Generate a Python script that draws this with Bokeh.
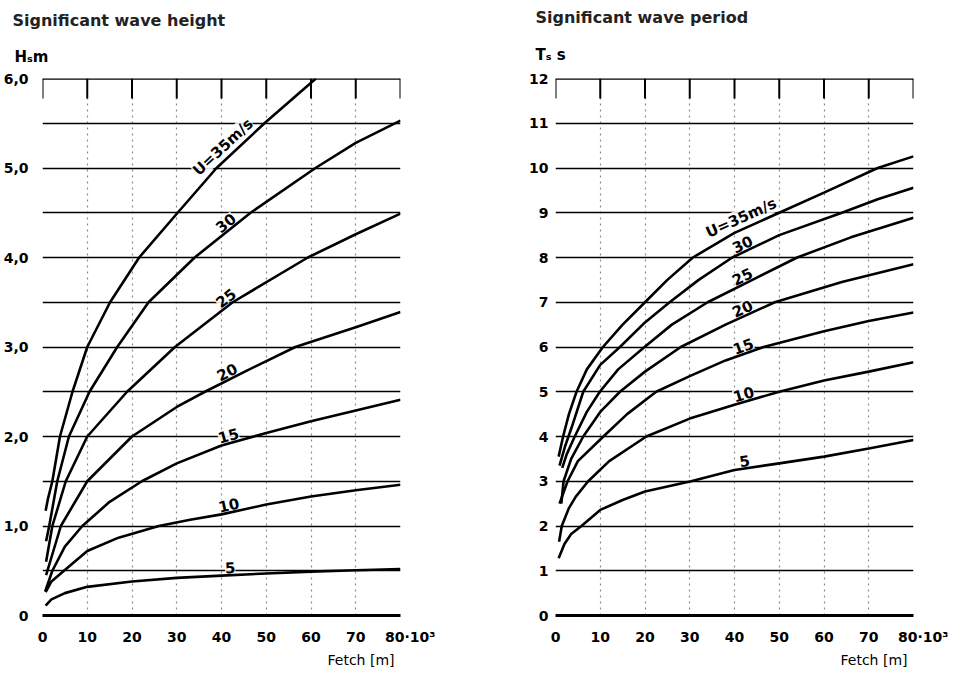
import numpy as np
from bokeh.plotting import figure
from bokeh.models import Range1d, FixedTicker, Label, Title, Span
from bokeh.layouts import row
from bokeh.embed import file_html
from bokeh.resources import INLINE

# ---------------- data ----------------
curve_labels = ["U=35m/s", "30", "25", "20", "15", "10", "5"]

# Significant wave height H (m) vs fetch (10^3 m)
h35_fetch = [0.7, 1.2, 2.2, 3.9, 6.7, 10, 15.1, 21.6, 30.2, 38.9, 49.6, 61.1]
h35_val = [1.17, 1.3, 1.5, 2.0, 2.5, 3.0, 3.5, 4.0, 4.5, 5.0, 5.5, 6.0]
h30_fetch = [0.8, 1.5, 3.3, 5.9, 10.5, 16.7, 23.7, 34, 46.5, 61, 70, 80]
h30_val = [0.83, 1.0, 1.5, 2.0, 2.5, 3.0, 3.5, 4.0, 4.5, 5.0, 5.28, 5.53]
h25_fetch = [0.8, 2.2, 5.2, 10, 18.9, 29.6, 42.5, 59.3, 70, 80]
h25_val = [0.6, 1.0, 1.5, 2.0, 2.5, 3.0, 3.5, 4.0, 4.26, 4.49]
h20_fetch = [0.8, 1.1, 4.1, 10, 20, 30, 36.3, 45, 56.5, 70, 80]
h20_val = [0.45, 0.5, 1.0, 1.5, 2.0, 2.33, 2.5, 2.72, 3.0, 3.22, 3.39]
h15_fetch = [0.6, 2.2, 5, 8.9, 15, 22.2, 30, 40, 50, 60, 70, 80]
h15_val = [0.27, 0.5, 0.77, 1.0, 1.27, 1.5, 1.7, 1.9, 2.04, 2.17, 2.29, 2.41]
h10_fetch = [0.7, 2, 4.8, 10, 17, 26, 33, 40, 50, 60, 70, 80]
h10_val = [0.26, 0.38, 0.5, 0.72, 0.87, 1.0, 1.07, 1.13, 1.24, 1.33, 1.40, 1.46]
h5_fetch = [0.7, 2, 5, 10, 20, 30, 40, 50, 60, 70, 80]
h5_val = [0.11, 0.18, 0.25, 0.32, 0.38, 0.42, 0.445, 0.47, 0.49, 0.505, 0.52]

# Significant wave period T (s) vs fetch (10^3 m)
t35_fetch = [0.7, 1.7, 3, 4.7, 7, 10.6, 15, 20, 25, 30.7, 40, 50, 60, 72, 80]
t35_val = [3.55, 4.0, 4.5, 5.0, 5.5, 6.0, 6.5, 7.0, 7.5, 8.0, 8.55, 9.0, 9.45, 10.0, 10.26]
t30_fetch = [0.9, 2.2, 3.6, 6.2, 10, 14.4, 20, 25.5, 32, 39.5, 50, 64, 72, 80]
t30_val = [3.35, 3.8, 4.2, 5.0, 5.6, 6.0, 6.55, 7.0, 7.5, 8.0, 8.5, 9.0, 9.3, 9.56]
t25_fetch = [1.5, 2.5, 4.3, 7, 9.9, 14, 19.9, 26, 34, 44, 54, 66, 80]
t25_val = [3.3, 3.6, 4.0, 4.55, 5.0, 5.5, 6.0, 6.5, 7.0, 7.5, 8.0, 8.45, 8.89]
t20_fetch = [1.3, 1.8, 3.5, 6.2, 10, 14.4, 20, 28, 38, 49, 64, 80]
t20_val = [2.5, 3.0, 3.5, 4.0, 4.55, 5.0, 5.45, 6.0, 6.5, 7.0, 7.45, 7.85]
t15_fetch = [0.9, 2.7, 5, 10.7, 16, 22.5, 30, 38, 46.5, 60, 70, 80]
t15_val = [2.5, 3.0, 3.45, 4.0, 4.5, 5.0, 5.35, 5.7, 6.0, 6.35, 6.58, 6.77]
t10_fetch = [0.8, 1.4, 3, 4.5, 7.3, 12, 20.3, 30, 40, 50, 60, 70, 80]
t10_val = [1.65, 2.0, 2.4, 2.65, 3.0, 3.45, 4.0, 4.4, 4.71, 5.0, 5.25, 5.45, 5.66]
t5_fetch = [0.7, 2, 3.5, 5.8, 10, 15, 20, 30.3, 40, 50, 60, 70, 80]
t5_val = [1.28, 1.6, 1.82, 2.0, 2.36, 2.58, 2.77, 3.0, 3.25, 3.4, 3.55, 3.73, 3.92]

h_curves = [(h35_fetch, h35_val), (h30_fetch, h30_val), (h25_fetch, h25_val),
            (h20_fetch, h20_val), (h15_fetch, h15_val), (h10_fetch, h10_val),
            (h5_fetch, h5_val)]
t_curves = [(t35_fetch, t35_val), (t30_fetch, t30_val), (t25_fetch, t25_val),
            (t20_fetch, t20_val), (t15_fetch, t15_val), (t10_fetch, t10_val),
            (t5_fetch, t5_val)]

x_ticks = [0, 10, 20, 30, 40, 50, 60, 70, 80]
x_tick_labels = {80: "\u00a0\u00a0\u00a0\u00a080·10³"}
h_ticks = [0, 1, 2, 3, 4, 5, 6]
h_tick_labels = {0: "0", 1: "1,0", 2: "2,0", 3: "3,0", 4: "4,0", 5: "5,0", 6: "6,0"}
t_ticks = list(range(0, 13))

FONT = "DejaVu Sans"


def make_chart(width, height, ymax, grid_step, yticks, ylabels, curves,
               borders, title_text, unit_text, title_off, standoffs,
               label_fetch, ystandoff):
    bl, br, bt, bb = borders
    p = figure(width=width, height=height, x_range=Range1d(0, 80),
               y_range=Range1d(0, ymax), output_backend="svg",
               toolbar_location=None, title=None,
               min_border_left=bl, min_border_right=br,
               min_border_top=bt, min_border_bottom=bb)
    p.outline_line_color = None
    p.background_fill_color = "white"
    p.border_fill_color = "white"

    # bottom axis
    xa = p.xaxis[0]
    xa.ticker = FixedTicker(ticks=x_ticks)
    xa.major_label_overrides = x_tick_labels
    xa.major_tick_line_color = None
    xa.minor_tick_line_color = None
    xa.axis_line_width = 3
    xa.axis_line_color = "black"
    xa.major_label_standoff = 7
    xa.major_label_text_font = FONT
    xa.major_label_text_font_style = "bold"
    xa.major_label_text_font_size = "14px"
    xa.major_label_text_color = "black"

    # left axis
    ya = p.yaxis[0]
    ya.ticker = FixedTicker(ticks=yticks)
    ya.major_label_overrides = ylabels
    ya.major_tick_line_color = None
    ya.minor_tick_line_color = None
    ya.axis_line_color = None
    ya.major_label_standoff = ystandoff
    ya.major_label_text_font = FONT
    ya.major_label_text_font_style = "bold"
    ya.major_label_text_font_size = "14px"
    ya.major_label_text_color = "black"

    # grids
    p.xgrid.ticker = FixedTicker(ticks=x_ticks)
    p.xgrid.grid_line_color = "#8a8a8a"
    p.xgrid.grid_line_dash = "2 4"
    p.xgrid.grid_line_width = 1.2
    p.ygrid.ticker = FixedTicker(ticks=list(np.arange(grid_step, ymax + 1e-9, grid_step)))
    p.ygrid.grid_line_color = "black"
    p.ygrid.grid_line_width = 1.6

    px_x = (width - bl - br) / 80.0
    px_y = (height - bt - bb) / ymax

    # top border with inward ticks
    p.add_layout(Span(location=ymax, dimension="width", line_color="black", line_width=2.5))
    tick_len = 20.0 / px_y
    p.segment(x0=x_ticks, y0=[ymax] * len(x_ticks), x1=x_ticks,
              y1=[ymax - tick_len] * len(x_ticks), line_color="black", line_width=2)

    # curves
    for (fx, fy), lab in zip(curves, curve_labels):
        p.line(fx, fy, line_color="black", line_width=2.6)
        yl = float(np.interp(label_fetch, fx, fy))
        i = int(np.searchsorted(fx, label_fetch))
        slope = (fy[i] - fy[i - 1]) / (fx[i] - fx[i - 1])
        ang = float(np.arctan(slope * px_y / px_x))
        d = 2.0
        p.add_layout(Label(x=label_fetch, y=yl, text=lab, angle=ang,
                           x_offset=float(-d * np.sin(ang)), y_offset=float(d * np.cos(ang)),
                           text_align="center", text_baseline="bottom",
                           text_font=FONT, text_font_style="bold",
                           text_font_size="15px", text_color="black",
                           background_fill_color="white", background_fill_alpha=0.85))

    # texts outside the frame
    p.add_layout(Title(text=unit_text, align="left", offset=title_off[0],
                       standoff=standoffs[0], vertical_align="top",
                       text_font=FONT, text_font_style="bold",
                       text_font_size="15px", text_color="black"), "above")
    p.add_layout(Title(text=title_text, align="left", offset=title_off[1],
                       standoff=standoffs[1], vertical_align="top",
                       text_font=FONT, text_font_style="bold",
                       text_font_size="16px", text_color="#222"), "above")
    p.add_layout(Title(text="Fetch [m]", align="right", offset=6,
                       standoff=4, text_font=FONT, text_font_style="normal",
                       text_font_size="14px", text_color="black"), "below")
    return p


p1 = make_chart(476, 677, 6.0, 0.5, h_ticks, h_tick_labels, h_curves,
                (40, 76, 76, 62), "Significant wave height", "Hₛm",
                (-28, -30), (21, 11), 42.0, 8)
p2 = make_chart(477, 677, 12.0, 1.0, t_ticks, {}, t_curves,
                (79, 40, 78, 60), "Significant wave period", "Tₛ s",
                (-20, -20), (25, 9), 42.5, 1)

layout = row(p1, p2)
open("out.html", "w").write(file_html(layout, INLINE))
